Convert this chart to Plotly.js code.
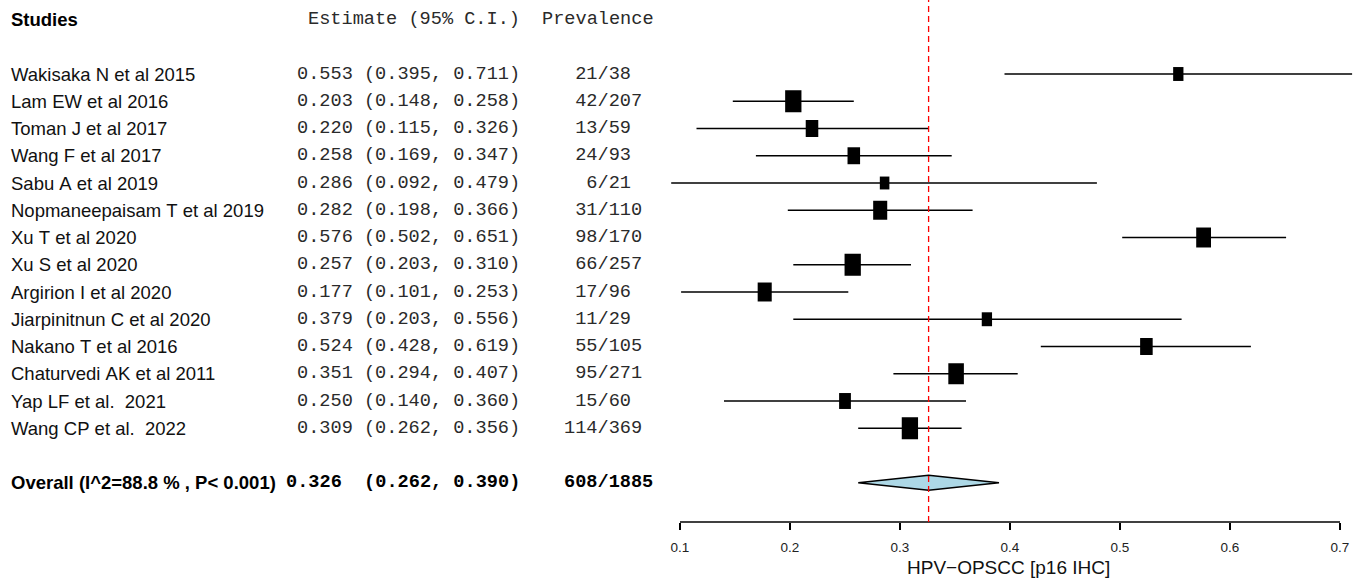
<!DOCTYPE html>
<html>
<head>
<meta charset="utf-8">
<script src="https://cdn.plot.ly/plotly-3.0.1.min.js"></script>
<style>
  html, body { margin: 0; padding: 0; background: #ffffff; }
  #chart { width: 1362px; height: 581px; }
</style>
</head>
<body>
<div id="chart"></div>
<script>
// ---------------- DATA ----------------
const studies = [
  "Wakisaka N et al 2015",
  "Lam EW et al 2016",
  "Toman J et al 2017",
  "Wang F et al 2017",
  "Sabu A et al 2019",
  "Nopmaneepaisam T et al 2019",
  "Xu T et al 2020",
  "Xu S et al 2020",
  "Argirion I et al 2020",
  "Jiarpinitnun C et al 2020",
  "Nakano T et al 2016",
  "Chaturvedi AK et al 2011",
  "Yap LF et al.  2021",
  "Wang CP et al.  2022"
];
const estimates = [0.553, 0.203, 0.220, 0.258, 0.286, 0.282, 0.576, 0.257, 0.177, 0.379, 0.524, 0.351, 0.250, 0.309];
const lowerCI   = [0.395, 0.148, 0.115, 0.169, 0.092, 0.198, 0.502, 0.203, 0.101, 0.203, 0.428, 0.294, 0.140, 0.262];
const upperCI   = [0.711, 0.258, 0.326, 0.347, 0.479, 0.366, 0.651, 0.310, 0.253, 0.556, 0.619, 0.407, 0.360, 0.356];
const events    = [21, 42, 13, 24, 6, 31, 98, 66, 17, 11, 55, 95, 15, 114];
const totals    = [38, 207, 59, 93, 21, 110, 170, 257, 96, 29, 105, 271, 60, 369];
// relative study weights (%)
const weights   = [5.5, 8.7, 6.7, 6.7, 5.1, 7.5, 7.9, 8.7, 7.5, 5.5, 6.7, 8.3, 6.3, 8.7];

const overallLabel = "Overall (I^2=88.8 % , P< 0.001)";
const overallEstimate = 0.326;
const overallLower = 0.262;
const overallUpper = 0.390;
const overallEvents = 608;
const overallTotal = 1885;

const xTicks = [0.1, 0.2, 0.3, 0.4, 0.5, 0.6, 0.7];
const xTickLabels = ["0.1", "0.2", "0.3", "0.4", "0.5", "0.6", "0.7"];
const xAxisTitle = "HPV\u2212OPSCC [p16 IHC]";
const headerStudies = "Studies";
const headerEstimate = "Estimate (95% C.I.)";
const headerPrevalence = "Prevalence";

// ---------------- LAYOUT CONSTANTS ----------------
const W = 1362, H = 581;
const PX_PER_UNIT = 1100;        // horizontal pixels per 1.0 on the x scale
const ROW_PX = 27.25;            // vertical pixels per row
const FIRST_ROW_PX = 74;         // pixel y of first study
const AXIS_PX = 522;             // pixel y of the x axis line
const xLeftPx = 669;             // left of plot area
const xRangeMin = xTicks[0] - (680 - xLeftPx) / PX_PER_UNIT;
const xRangeMax = xRangeMin + (W - xLeftPx) / PX_PER_UNIT;
const yTop = -FIRST_ROW_PX / ROW_PX;
const yBottom = (AXIS_PX - FIRST_ROW_PX) / ROW_PX;
const headerRow = -2;
const overallRow = studies.length + 1;

const SANS = "Liberation Sans, Arial, sans-serif";
const MONO = "Liberation Mono, Courier New, monospace";
const FS = 18.5;
const FM = 18.6;
const NB = "\u00A0";

function fmt3(v) { return v.toFixed(3); }
function padLeft(s, n) { s = String(s); while (s.length < n) s = NB + s; return s; }

const rows = studies.map((_, i) => i);

// CI lines
const ciX = [], ciY = [];
rows.forEach(i => { ciX.push(lowerCI[i], upperCI[i], null); ciY.push(i, i, null); });

// boxes (height ~ weight, slightly taller than wide)
const boxHpx = weights.map(w => w * 2.53);
const boxWpx = boxHpx.map(h => h / 1.35);
const boxLen = boxWpx.map(w => w / PX_PER_UNIT);
const boxBase = estimates.map((e, i) => e - boxLen[i] / 2);
const boxThick = boxHpx.map(h => h / ROW_PX);

// diamond
const dHalf = 7.5 / ROW_PX;
const diamondX = [overallLower, overallEstimate, overallUpper, overallEstimate, overallLower];
const diamondY = [overallRow, overallRow - dHalf, overallRow, overallRow + dHalf, overallRow];

const traces = [
  { type: "scatter", mode: "lines", x: ciX, y: ciY,
    line: { color: "#000000", width: 1.4 }, showlegend: false, hoverinfo: "skip" },
  { type: "bar", orientation: "h", y: rows, x: boxLen, base: boxBase, width: boxThick,
    marker: { color: "#000000", line: { width: 0 } }, showlegend: false, hoverinfo: "skip" },
  { type: "scatter", mode: "lines", x: diamondX, y: diamondY, fill: "toself",
    fillcolor: "#ADD8E6", line: { color: "#000000", width: 1.4 }, showlegend: false, hoverinfo: "skip" }
];

const ann = [];
function px(x) { return x / W; }
function addText(text, xPx, row, anchor, font, size, bold, color) {
  ann.push({ text: bold ? "<b>" + text + "</b>" : text, xref: "paper", yref: "y",
    x: px(xPx), y: row, xanchor: anchor, yanchor: "middle", showarrow: false,
    font: { family: font, size: size, color: color || "#000000" }, borderpad: 0 });
}
const MONO_COLOR = "#2a2a2a";
addText(headerStudies, 10, headerRow, "left", SANS, FS, true, "#000000");
addText(headerEstimate, 521, headerRow, "right", MONO, FM, false, MONO_COLOR);
addText(headerPrevalence, 541, headerRow, "left", MONO, FM, false, MONO_COLOR);

rows.forEach(i => {
  addText(studies[i].replace(/ /g, NB), 10, i, "left", SANS, FS, false, "#111111");
  addText(fmt3(estimates[i]) + NB + "(" + fmt3(lowerCI[i]) + "," + NB + fmt3(upperCI[i]) + ")", 521, i, "right", MONO, FM, false, MONO_COLOR);
  addText(padLeft(events[i], 3) + "/" + totals[i], 563, i, "left", MONO, FM, false, MONO_COLOR);
});
addText(overallLabel.replace(/ /g, NB), 10, overallRow, "left", SANS, FS, true, "#000000");
addText(fmt3(overallEstimate) + NB + NB + "(" + fmt3(overallLower) + "," + NB + fmt3(overallUpper) + ")", 521, overallRow, "right", MONO, FM, true, "#000000");
addText(padLeft(overallEvents, 3) + "/" + overallTotal, 563, overallRow, "left", MONO, FM, true, "#000000");

// axis title
ann.push({ text: xAxisTitle, xref: "paper", yref: "paper", x: px(1008), y: -(567 - AXIS_PX) / AXIS_PX,
  xanchor: "center", yanchor: "middle", showarrow: false,
  font: { family: SANS, size: 19, color: "#111111" } });

const layout = {
  width: W, height: H,
  margin: { l: 0, r: 0, t: 0, b: H - AXIS_PX, pad: 0 },
  paper_bgcolor: "#ffffff", plot_bgcolor: "#ffffff",
  showlegend: false, hovermode: false, barmode: "overlay",
  xaxis: {
    domain: [xLeftPx / W, 1], range: [xRangeMin, xRangeMax],
    showgrid: false, zeroline: false, showline: false,
    tickmode: "array", tickvals: xTicks, ticktext: xTickLabels,
    ticks: "outside", ticklen: 7, tickwidth: 1.3, tickcolor: "#000000",
    ticklabelstandoff: 6,
    tickfont: { family: SANS, size: 13.5, color: "#222222" }, fixedrange: true
  },
  yaxis: {
    domain: [0, 1], range: [yBottom, yTop],
    showgrid: false, zeroline: false, showline: false, showticklabels: false, ticks: "",
    fixedrange: true
  },
  shapes: [
    { type: "line", xref: "x", yref: "paper", x0: xTicks[0], x1: xTicks[xTicks.length - 1], y0: 0, y1: 0,
      line: { color: "#000000", width: 1.3 } },
    { type: "line", xref: "x", yref: "paper", x0: overallEstimate, x1: overallEstimate, y0: 0, y1: 1,
      line: { color: "#ff0000", width: 1.3, dash: "6px,4px" }, layer: "above" }
  ],
  annotations: ann
};

Plotly.newPlot("chart", traces, layout, { staticPlot: true, displayModeBar: false });
</script>
</body>
</html>
